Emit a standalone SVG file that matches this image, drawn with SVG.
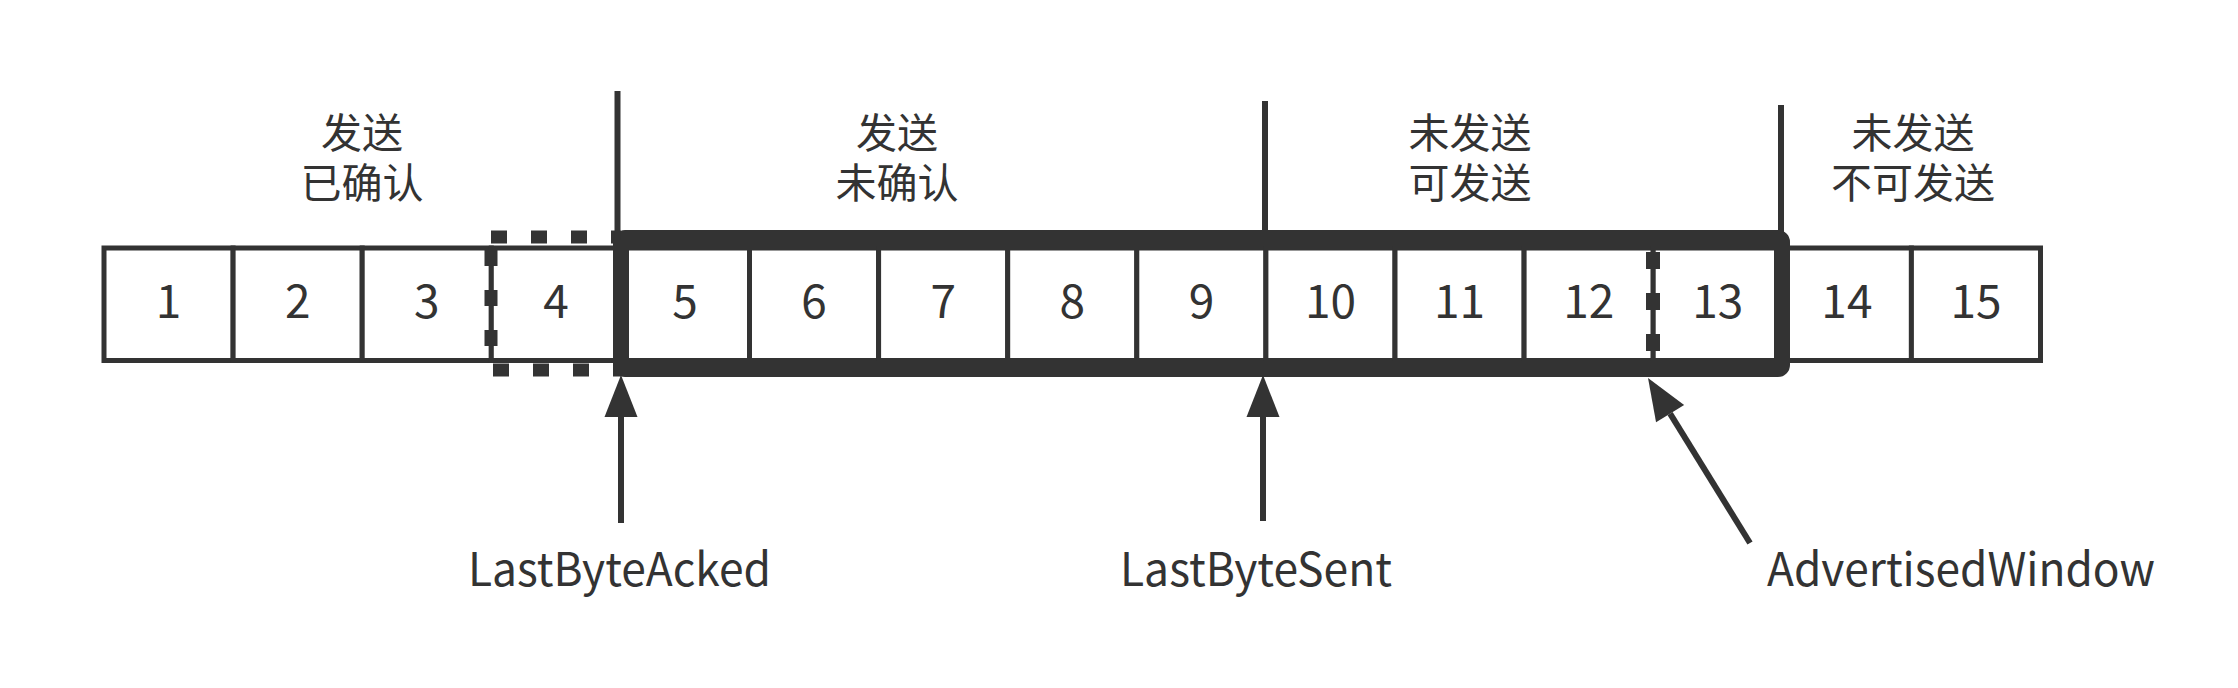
<svg xmlns="http://www.w3.org/2000/svg" width="2238" height="688" viewBox="0 0 2238 688">
<defs>
<style>
.cell{fill:#fff;stroke:#333;stroke-width:5}
.num{font-family:"Noto Sans CJK SC","Noto Sans",sans-serif;font-size:46px;fill:#333;text-anchor:middle}
.zh{font-family:"Noto Sans CJK SC",sans-serif;font-size:41px;fill:#333;text-anchor:middle}
.lbl{font-family:"Noto Sans CJK SC","Noto Sans",sans-serif;font-size:46px;fill:#333;text-anchor:middle}
.dash{fill:none;stroke:#333;stroke-width:13;stroke-dasharray:16 24}
.div{stroke:#333;stroke-width:6;fill:none}
.arr{stroke:#333;stroke-width:6;fill:none;marker-end:url(#head)}
</style>
<marker id="head" markerUnits="userSpaceOnUse" markerWidth="44" markerHeight="34" refX="0" refY="16.5" orient="auto" overflow="visible">
<path d="M0,0 L42,16.5 L0,33 Z" fill="#333"/>
</marker>
</defs>
<rect width="2238" height="688" fill="#fff"/>
<g id="cells">
<g id="cell1"><rect class="cell" x="104" y="248" width="129.1" height="112.5"/><text class="num" x="168.6" y="318">1</text></g>
<g id="cell2"><rect class="cell" x="233.1" y="248" width="129.1" height="112.5"/><text class="num" x="297.7" y="318">2</text></g>
<g id="cell3"><rect class="cell" x="362.2" y="248" width="129.1" height="112.5"/><text class="num" x="426.8" y="318">3</text></g>
<g id="cell4"><rect class="cell" x="491.3" y="248" width="129.1" height="112.5"/><text class="num" x="555.9" y="318">4</text></g>
<g id="cell5"><rect class="cell" x="620.4" y="248" width="129.1" height="112.5"/><text class="num" x="685" y="318">5</text></g>
<g id="cell6"><rect class="cell" x="749.5" y="248" width="129.1" height="112.5"/><text class="num" x="814.1" y="318">6</text></g>
<g id="cell7"><rect class="cell" x="878.6" y="248" width="129.1" height="112.5"/><text class="num" x="943.2" y="318">7</text></g>
<g id="cell8"><rect class="cell" x="1007.7" y="248" width="129.1" height="112.5"/><text class="num" x="1072.3" y="318">8</text></g>
<g id="cell9"><rect class="cell" x="1136.8" y="248" width="129.1" height="112.5"/><text class="num" x="1201.4" y="318">9</text></g>
<g id="cell10"><rect class="cell" x="1265.9" y="248" width="129.1" height="112.5"/><text class="num" x="1330.5" y="318">10</text></g>
<g id="cell11"><rect class="cell" x="1395" y="248" width="129.1" height="112.5"/><text class="num" x="1459.6" y="318">11</text></g>
<g id="cell12"><rect class="cell" x="1524.1" y="248" width="129.1" height="112.5"/><text class="num" x="1588.7" y="318">12</text></g>
<g id="cell13"><rect class="cell" x="1653.2" y="248" width="129.1" height="112.5"/><text class="num" x="1717.8" y="318">13</text></g>
<g id="cell14"><rect class="cell" x="1782.3" y="248" width="129.1" height="112.5"/><text class="num" x="1846.9" y="318">14</text></g>
<g id="cell15"><rect class="cell" x="1911.4" y="248" width="129.1" height="112.5"/><text class="num" x="1976" y="318">15</text></g>
</g>
<g id="acked-box">
<line class="dash" x1="491" y1="237" x2="621" y2="237"/>
<line class="dash" x1="493" y1="370" x2="621" y2="370"/>
<line class="dash" x1="491" y1="250" x2="491" y2="360"/>
</g>
<g id="window">
<rect x="621" y="238" width="1161" height="131" rx="4" fill="none" stroke="#333" stroke-width="16" stroke-linejoin="round"/>
<line class="dash" x1="1653" y1="252" x2="1653" y2="358" style="stroke-dasharray:17 24;stroke-width:14"/>
</g>
<g id="dividers">
<line class="div" x1="617.5" y1="91" x2="617.5" y2="240"/>
<line class="div" x1="1265" y1="101" x2="1265" y2="240"/>
<line class="div" x1="1781" y1="105" x2="1781" y2="240"/>
</g>
<g id="region-labels">
<g id="label-acked"><text class="zh" x="362" y="148">发送</text><text class="zh" x="362" y="198">已确认</text></g>
<g id="label-sent"><text class="zh" x="897" y="148">发送</text><text class="zh" x="897" y="198">未确认</text></g>
<g id="label-usable"><text class="zh" x="1470" y="148">未发送</text><text class="zh" x="1470" y="198">可发送</text></g>
<g id="label-unusable"><text class="zh" x="1913" y="148">未发送</text><text class="zh" x="1913" y="198">不可发送</text></g>
</g>
<g id="connectors">
<line class="arr" x1="621" y1="523" x2="621" y2="417"/>
<line class="arr" x1="1263" y1="521" x2="1263" y2="417"/>
<line class="arr" x1="1750" y1="543" x2="1670.1" y2="413.7"/>
</g>
<g id="pointer-labels">
<text class="lbl" x="619.5" y="586" textLength="303" lengthAdjust="spacingAndGlyphs">LastByteAcked</text>
<text class="lbl" x="1256" y="586" textLength="272" lengthAdjust="spacingAndGlyphs">LastByteSent</text>
<text class="lbl" x="1961" y="586" textLength="388" lengthAdjust="spacingAndGlyphs">AdvertisedWindow</text>
</g>
</svg>
